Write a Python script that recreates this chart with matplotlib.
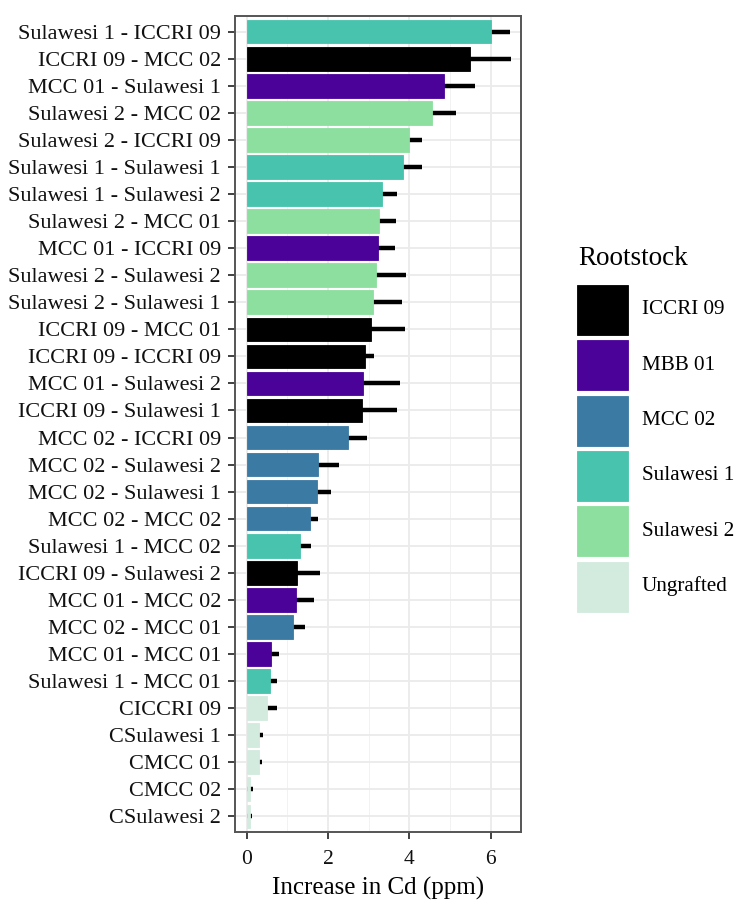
import matplotlib.pyplot as plt
from matplotlib.patches import Rectangle
import numpy as np

# scion - rootstock combinations, top to bottom
combos = [
    'Sulawesi 1 - ICCRI 09', 'ICCRI 09 - MCC 02', 'MCC 01 - Sulawesi 1',
    'Sulawesi 2 - MCC 02', 'Sulawesi 2 - ICCRI 09', 'Sulawesi 1 - Sulawesi 1',
    'Sulawesi 1 - Sulawesi 2', 'Sulawesi 2 - MCC 01', 'MCC 01 - ICCRI 09',
    'Sulawesi 2 - Sulawesi 2', 'Sulawesi 2 - Sulawesi 1', 'ICCRI 09 - MCC 01',
    'ICCRI 09 - ICCRI 09', 'MCC 01 - Sulawesi 2', 'ICCRI 09 - Sulawesi 1',
    'MCC 02 - ICCRI 09', 'MCC 02 - Sulawesi 2', 'MCC 02 - Sulawesi 1',
    'MCC 02 - MCC 02', 'Sulawesi 1 - MCC 02', 'ICCRI 09 - Sulawesi 2',
    'MCC 01 - MCC 02', 'MCC 02 - MCC 01', 'MCC 01 - MCC 01',
    'Sulawesi 1 - MCC 01', 'CICCRI 09', 'CSulawesi 1', 'CMCC 01',
    'CMCC 02', 'CSulawesi 2',
]
rootstock = [
    'Sulawesi 1', 'ICCRI 09', 'MBB 01', 'Sulawesi 2', 'Sulawesi 2',
    'Sulawesi 1', 'Sulawesi 1', 'Sulawesi 2', 'MBB 01', 'Sulawesi 2',
    'Sulawesi 2', 'ICCRI 09', 'ICCRI 09', 'MBB 01', 'ICCRI 09',
    'MCC 02', 'MCC 02', 'MCC 02', 'MCC 02', 'Sulawesi 1',
    'ICCRI 09', 'MBB 01', 'MCC 02', 'MBB 01', 'Sulawesi 1',
    'Ungrafted', 'Ungrafted', 'Ungrafted', 'Ungrafted', 'Ungrafted',
]
cd_increase = [
    6.00, 5.48, 4.84, 4.55, 3.98, 3.84, 3.33, 3.25, 3.23, 3.17,
    3.11, 3.06, 2.92, 2.85, 2.84, 2.49, 1.75, 1.72, 1.56, 1.31,
    1.24, 1.22, 1.14, 0.59, 0.57, 0.50, 0.29, 0.29, 0.08, 0.07,
]
cd_se = [
    0.48, 1.01, 0.77, 0.59, 0.34, 0.46, 0.37, 0.41, 0.42, 0.74,
    0.71, 0.83, 0.21, 0.93, 0.85, 0.46, 0.51, 0.34, 0.20, 0.26,
    0.55, 0.43, 0.30, 0.21, 0.17, 0.24, 0.10, 0.08, 0.08, 0.07,
]

legend_levels = ['ICCRI 09', 'MBB 01', 'MCC 02', 'Sulawesi 1', 'Sulawesi 2', 'Ungrafted']
legend_colors = ['#000000', '#4b0299', '#3a7aa3', '#48c3ad', '#8ddf9f', '#d3ebdf']
palette = dict(zip(legend_levels, legend_colors))

plt.rcParams['font.family'] = ['Liberation Serif', 'DejaVu Serif']

W, H = 738, 900
fig = plt.figure(figsize=(W / 100, H / 100), dpi=100)
ax = fig.add_axes([235 / W, 1 - 832 / H, (521 - 235) / W, (832 - 16) / H])

y = np.arange(len(combos))
vals = np.array(cd_increase)
errs = np.array(cd_se)
colors = [palette[r] for r in rootstock]

# error bars sit under the bars, so only the upper half shows
ax.hlines(y, vals - errs, vals + errs, color='black', lw=3.2, zorder=2,
          capstyle='butt')
ax.barh(y, vals, height=0.87, color=colors, edgecolor=colors, lw=0.6, zorder=3)

ax.set_yticks(y)
ax.set_yticklabels(combos)
ax.set_ylim(len(combos) - 0.42, -0.58)
ax.set_xlim(-0.29, 6.745)
ax.set_xticks([0, 2, 4, 6])
ax.set_xticks([1, 3, 5], minor=True)

ax.grid(True, which='major', color='#ebebeb', lw=1.3, zorder=0)
ax.grid(True, which='minor', axis='x', color='#f2f2f2', lw=0.7, zorder=0)
ax.set_axisbelow(True)

ax.tick_params(axis='both', which='major', length=5, width=1.3, color='#333333',
               labelcolor='#111111', pad=5)
ax.tick_params(axis='y', labelsize=16)
ax.tick_params(axis='x', labelsize=15.5, pad=8)
ax.tick_params(axis='x', which='minor', length=0)
for s in ax.spines.values():
    s.set_color('#555555')
    s.set_linewidth(1.4)

ax.set_xlabel('Increase in Cd (ppm)', fontsize=18, labelpad=6)

# legend drawn in figure pixels
def px(x, yy):
    return x / W, 1 - yy / H

fig.text(*px(578, 265), 'Rootstock', fontsize=19.5, va='baseline', ha='left')
for i, (lvl, col) in enumerate(zip(legend_levels, legend_colors)):
    top = 285 + i * 55.3
    x0, y0 = px(577, top + 50)
    fig.add_artist(Rectangle((x0, y0), 51 / W, 50 / H, transform=fig.transFigure,
                             facecolor=col, edgecolor=col, lw=0.6))
    fig.text(*px(642, top + 25), lvl, fontsize=15.2, va='center', ha='left')

fig.savefig('out.png', dpi=100)
